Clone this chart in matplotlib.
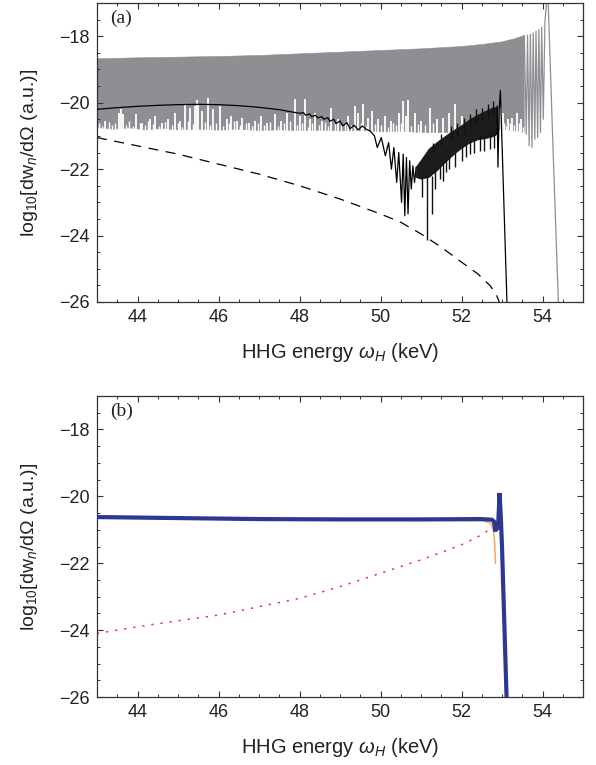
import numpy as np
import matplotlib
matplotlib.use("Agg")
import matplotlib.pyplot as plt
from matplotlib.ticker import MultipleLocator

plt.rcParams['font.family'] = ['Liberation Sans', 'DejaVu Sans']
plt.rcParams['mathtext.fontset'] = 'custom'
plt.rcParams['mathtext.rm'] = 'Liberation Sans'
plt.rcParams['mathtext.it'] = 'Liberation Sans:italic'

# ---------------- Panel (a) data ----------------
# grey band: upper envelope
gray_up_x = [43.0, 44.0, 45.0, 46.0, 47.0, 48.0, 49.0, 50.0, 51.0, 52.0, 52.5, 53.0, 53.3, 53.55]
gray_up_y = [-18.68, -18.65, -18.63, -18.61, -18.58, -18.53, -18.48, -18.43, -18.38, -18.31,
             -18.25, -18.17, -18.08, -17.98]
# grey band: lower envelope
gray_lo_x = [43.0, 43.4, 43.8, 44.2, 44.6, 45.0, 45.5, 46.0, 46.5, 47.0, 47.5, 48.0, 48.5, 49.0,
             49.5, 50.0, 50.5, 51.0, 51.5, 52.0, 52.5, 53.0, 53.3, 53.55]
gray_lo_y = [-20.75, -20.80, -20.76, -20.82, -20.78, -20.82, -20.80, -20.83, -20.80, -20.84, -20.82,
             -20.84, -20.83, -20.85, -20.84, -20.88, -20.86, -20.90, -20.90, -20.90, -20.88, -20.80,
             -20.85, -20.90]
# white notches cutting up into the lower edge of the grey band
notch_x = [43.20, 43.55, 43.60, 43.65, 43.97, 44.10, 44.30, 44.43, 44.60, 44.75, 44.92, 45.05,
           45.17, 45.30, 45.42, 45.46, 45.50, 45.60, 45.74, 45.86, 46.03, 46.20, 46.30, 46.45,
           46.59, 46.75, 46.90, 47.06, 47.20, 47.39, 47.55, 47.68, 47.88, 48.00, 48.13, 48.25,
           48.38, 48.55, 48.79, 48.95, 49.20, 49.37, 49.45, 49.57, 49.70, 49.78, 49.95, 50.10,
           50.25, 50.45, 50.56, 50.62, 50.68, 50.85, 51.00, 51.22, 51.40, 51.55, 51.70, 51.83,
           52.00, 52.97, 53.02, 53.15, 53.25, 53.36, 53.48]
notch_top = [-20.55, -20.30, -20.20, -20.35, -20.35, -20.60, -20.50, -20.40, -20.60, -20.50, -20.30, -20.55,
             -20.05, -20.15, -20.10, -19.92, -20.05, -20.25, -19.85, -20.20, -20.10, -20.50, -20.40, -20.55,
             -20.45, -20.60, -20.55, -20.40, -20.60, -20.35, -20.55, -20.30, -19.90, -20.40, -19.90, -20.50,
             -20.30, -20.55, -20.15, -20.50, -20.40, -20.10, -20.30, -20.05, -20.45, -20.25, -20.50, -20.40,
             -20.55, -20.30, -19.95, -20.40, -19.93, -20.30, -20.55, -20.15, -20.50, -20.45, -20.30, -20.05,
             -20.40, -20.15, -20.30, -20.50, -20.45, -20.30, -20.50]
# shallow notches giving the ragged lower edge
shallow_x = [43.05, 43.12, 43.30, 43.38, 43.45, 43.72, 43.80, 43.88, 44.05, 44.18, 44.25, 44.38,
             44.52, 44.68, 44.85, 45.00, 45.10, 45.24, 45.36, 45.66, 45.80, 45.94, 46.10, 46.25,
             46.38, 46.52, 46.68, 46.82, 46.98, 47.13, 47.28, 47.46, 47.62, 47.76, 47.95, 48.07,
             48.20, 48.32, 48.47, 48.62, 48.70, 48.87, 49.03, 49.12, 49.28, 49.52, 49.63, 49.86,
             50.02, 50.18, 50.32, 50.38, 50.50, 50.76, 50.92, 51.10, 51.30, 53.06, 53.10, 53.20,
             53.30, 53.42, 53.52]
shallow_top = [-20.62, -20.70, -20.58, -20.68, -20.60, -20.66, -20.55, -20.70, -20.62, -20.68, -20.56, -20.64,
               -20.70, -20.58, -20.66, -20.60, -20.72, -20.55, -20.64, -20.58, -20.68, -20.60, -20.70, -20.62,
               -20.56, -20.68, -20.62, -20.70, -20.60, -20.66, -20.58, -20.70, -20.62, -20.55, -20.68, -20.60,
               -20.72, -20.62, -20.66, -20.58, -20.70, -20.62, -20.66, -20.58, -20.68, -20.62, -20.70, -20.64,
               -20.66, -20.72, -20.60, -20.68, -20.62, -20.70, -20.64, -20.68, -20.62, -20.60, -20.70, -20.62,
               -20.68, -20.60, -20.72]
# grey resolved oscillations near cutoff
gray_tail_x = [53.55, 53.60, 53.63, 53.67, 53.70, 53.74, 53.77, 53.81, 53.84, 53.88, 53.91, 53.95,
               53.98, 54.02, 54.06, 54.13, 54.27, 54.40]
gray_tail_y = [-17.98, -20.95, -17.97, -21.30, -17.94, -21.35, -17.90, -21.10, -17.85, -21.05, -17.80, -20.90,
               -17.73, -20.50, -17.55, -16.60, -21.74, -26.30]

# black solid curve (resolved part)
black_x = [43.0, 43.5, 44.0, 44.5, 45.0, 45.5, 46.0, 46.5, 47.0, 47.5, 48.0, 48.1, 48.15, 48.25,
           48.3, 48.4, 48.45, 48.55, 48.6, 48.7, 48.75, 48.85, 48.9, 49.0, 49.07, 49.17, 49.25,
           49.35, 49.45, 49.55, 49.65, 49.75, 49.85, 49.92, 50.02, 50.12, 50.2, 50.27, 50.33,
           50.4, 50.45, 50.52, 50.56, 50.6, 50.64, 50.68, 50.72, 50.76, 50.8, 50.84, 50.88]
black_y = [-20.20, -20.15, -20.11, -20.08, -20.06, -20.05, -20.06, -20.09, -20.14, -20.21, -20.32, -20.30,
           -20.38, -20.34, -20.42, -20.38, -20.46, -20.42, -20.50, -20.45, -20.56, -20.50, -20.63, -20.55,
           -20.70, -20.60, -20.78, -20.68, -20.82, -20.70, -20.80, -20.86, -21.00, -21.35, -21.05, -21.60,
           -21.20, -22.00, -21.35, -22.40, -21.50, -23.00, -21.55, -23.40, -21.65, -23.35, -21.75, -22.60,
           -21.90, -22.40, -21.95]
# black dense oscillation band
bband_up_x = [50.88, 51.0, 51.2, 51.4, 51.6, 51.8, 52.0, 52.2, 52.4, 52.6, 52.8, 52.88]
bband_up_y = [-21.95, -21.75, -21.40, -21.20, -21.02, -20.85, -20.70, -20.52, -20.38, -20.26, -20.15, -20.15]
bband_lo_x = [50.88, 51.0, 51.2, 51.4, 51.6, 51.8, 52.0, 52.2, 52.4, 52.6, 52.8, 52.88]
bband_lo_y = [-22.25, -22.30, -22.25, -22.05, -21.80, -21.58, -21.38, -21.22, -21.12, -21.08, -21.02, -20.95]
# deep minima spikes below the band
spike_x = [51.02, 51.16, 51.28, 51.35, 51.46, 51.55, 51.62, 51.70, 51.85, 52.00, 52.10, 52.20,
           52.30, 52.45, 52.55, 52.70, 52.80]
spike_top = [-22.2, -22.2, -22.2, -22.0, -21.9, -21.8, -21.7, -21.6, -21.5, -21.3, -21.2, -21.1,
             -21.05, -21.0, -21.0, -20.95, -20.9]
spike_bot = [-22.85, -24.14, -23.34, -22.60, -22.30, -22.35, -22.10, -22.00, -21.95, -21.75, -21.65, -21.55,
             -21.50, -21.45, -21.45, -21.40, -21.35]
# peaks above the band
peak_x = [51.30, 51.50, 51.75, 51.90, 52.05, 52.20, 52.35, 52.50, 52.65, 52.78]
peak_base = [-21.5, -21.3, -21.1, -21.0, -20.9, -20.7, -20.6, -20.5, -20.4, -20.3]
peak_top = [-21.20, -20.95, -20.70, -20.60, -20.45, -20.35, -20.20, -20.15, -20.05, -19.95]
# black cutoff part
black_end_x = [52.88, 52.90, 52.93, 52.96, 53.09, 53.13]
black_end_y = [-20.10, -21.94, -20.20, -19.63, -24.74, -26.30]

# dashed curve
dash_x = [43.0, 44.0, 45.0, 46.0, 47.0, 48.0, 49.0, 50.0, 50.5, 51.0, 51.5, 52.0, 52.4, 52.7, 52.85, 52.95]
dash_y = [-21.05, -21.30, -21.55, -21.85, -22.15, -22.50, -22.90, -23.35, -23.60, -23.95, -24.35,
          -24.80, -25.15, -25.50, -25.75, -26.05]

# ---------------- Panel (b) data ----------------
blue_x = [43.0, 45.0, 47.0, 49.0, 51.0, 52.5, 52.75, 52.80, 52.84, 52.87, 52.90, 52.94, 52.97, 53.00, 53.12]
blue_y = [-20.62, -20.65, -20.68, -20.69, -20.69, -20.68, -20.70, -20.75, -21.05, -20.75, -21.00, -19.90,
          -20.60, -21.50, -26.30]
orange_x = [43.0, 47.0, 51.0, 52.5, 52.6, 52.7, 52.75, 52.80, 52.82, 52.84]
orange_y = [-20.64, -20.70, -20.72, -20.73, -20.75, -20.80, -20.87, -21.10, -21.40, -22.00]
red_x = [43.0, 44.0, 45.0, 46.0, 47.0, 48.0, 49.0, 50.0, 51.0, 52.0, 52.5, 52.8]
red_y = [-24.10, -23.90, -23.72, -23.55, -23.30, -23.05, -22.70, -22.30, -21.90, -21.45, -21.15, -20.90]

x_ticks = [44, 46, 48, 50, 52, 54]
y_ticks = [-26, -24, -22, -20, -18]

# ---------------- Figure ----------------
fig = plt.figure(figsize=(5.96, 7.65), dpi=100)
ax_a = fig.add_axes([97/596, 1-302/765, 486/596, 299/765])
ax_b = fig.add_axes([97/596, 1-697/765, 486/596, 301/765])

grey = '#8e8f93'
ax_a.fill(np.r_[gray_up_x, gray_lo_x[::-1]], np.r_[gray_up_y, gray_lo_y[::-1]],
          color=grey, lw=0.4, ec=grey, zorder=1)
ax_a.vlines(shallow_x, -20.95, shallow_top, color='white', lw=1.0, zorder=1.4)
ax_a.vlines(notch_x, -20.95, notch_top, color='white', lw=1.3, zorder=1.5)
ax_a.plot(gray_tail_x, gray_tail_y, color=grey, lw=0.9, zorder=1)

ax_a.plot(black_x, black_y, color='black', lw=0.9, zorder=3)
ax_a.fill(np.r_[bband_up_x, bband_lo_x[::-1]], np.r_[bband_up_y, bband_lo_y[::-1]],
          color='#1c1c1c', lw=0.6, ec='#1c1c1c', zorder=3)
ax_a.vlines(spike_x, spike_bot, spike_top, color='#111111', lw=1.0, zorder=3)
ax_a.vlines(peak_x, peak_base, peak_top, color='#111111', lw=1.0, zorder=3)
ax_a.plot(black_end_x, black_end_y, color='black', lw=0.9, zorder=3)
ax_a.plot(dash_x, dash_y, color='black', lw=0.9, dashes=(8, 6), zorder=2)

ax_b.plot(red_x, red_y, color='#ee3b3b', lw=1.1, linestyle=(0, (1.5, 4.5)), zorder=2)
ax_b.plot(orange_x, orange_y, color='#f4a15a', lw=1.0, zorder=2)
ax_b.plot(blue_x, blue_y, color='#2b3990', lw=3.0, zorder=3, solid_joinstyle='miter')

for ax, lab in ((ax_a, '(a)'), (ax_b, '(b)')):
    ax.set_xlim(43, 55)
    ax.set_ylim(-26, -17)
    ax.set_xticks(x_ticks)
    ax.set_yticks(y_ticks)
    ax.xaxis.set_minor_locator(MultipleLocator(0.5))
    ax.yaxis.set_minor_locator(MultipleLocator(0.5))
    ax.tick_params(which='both', direction='in', top=True, right=True, colors='#333333',
                   labelcolor='#222222', labelsize=13)
    ax.tick_params(which='major', length=4.5, width=0.8, pad=5)
    ax.tick_params(which='minor', length=2.2, width=0.7)
    for s in ax.spines.values():
        s.set_color('#333333')
        s.set_linewidth(0.9)
    ax.set_xlabel(r'HHG energy $\omega_H$ (keV)', fontsize=14.5, color='#222222', labelpad=11)
    ax.set_ylabel(r'log$_{10}$[dw$_{n}$/d$\Omega$ (a.u.)]', fontsize=14, color='#222222', labelpad=14)
    ax.text(0.027, 0.978, lab, transform=ax.transAxes, ha='left', va='top',
            fontsize=14, family=['Liberation Serif', 'DejaVu Serif'], color='#222222')

fig.savefig('out.png', dpi=100)
